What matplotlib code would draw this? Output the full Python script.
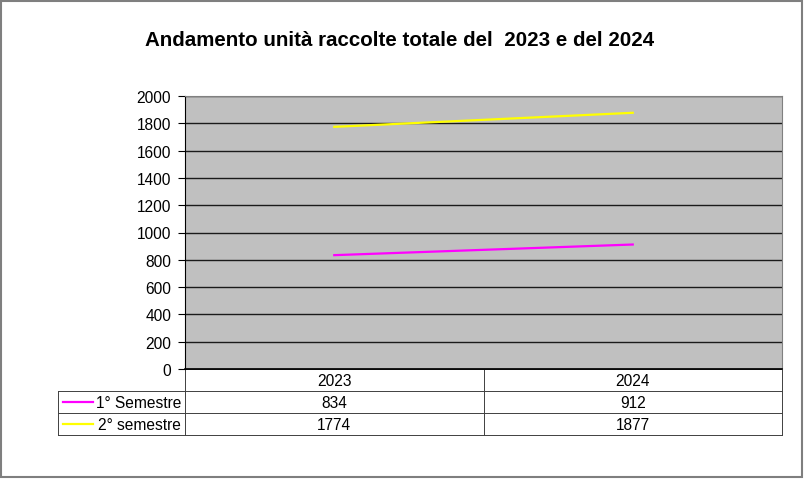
import numpy as np
import matplotlib
matplotlib.use("Agg")
import matplotlib.pyplot as plt
from matplotlib.patches import Rectangle

plt.rcParams['font.family'] = ['Liberation Sans', 'DejaVu Sans']

# dati
anni = ['2023', '2024']
serie = ['1° Semestre', '2° semestre']
primo_sem = [834, 912]
secondo_sem = [1774, 1877]
colori = ['#FF00FF', '#FFFF00']
titolo = 'Andamento unità raccolte totale del  2023 e del 2024'

W, H = 810, 489
fig = plt.figure(figsize=(W / 100, H / 100), dpi=100)

# cornice esterna
fig.patches.append(Rectangle((1 / W, 1 - 478 / H), 801 / W, 476 / H,
                             transform=fig.transFigure, fill=False,
                             edgecolor='#7f7f7f', linewidth=1.5))

ax = fig.add_axes([185 / W, 1 - 370 / H, 597 / W, 273 / H])
ax.set_facecolor('#C0C0C0')

x = np.arange(len(anni))
valori = [primo_sem, secondo_sem]
for v, c in zip(valori, colori):
    ax.plot(x, v, color=c, linewidth=1.6, zorder=3)

ax.set_xlim(-0.5, len(anni) - 0.5)
ax.set_ylim(0, 2000)
ax.set_yticks(np.arange(0, 2001, 200))
ax.set_xticks([])
ax.grid(axis='y', color='#1a1a1a', linewidth=1.0)
ax.set_axisbelow(True)
ax.tick_params(axis='y', length=5, width=0.8, color='#000000',
               labelsize=11.2, pad=5)
for s in ax.spines.values():
    s.set_color('#808080')
ax.spines['left'].set_color('#000000')
ax.spines['bottom'].set_color('#000000')
ax.spines['bottom'].set_linewidth(1.2)

fig.text(400 / W, 1 - 41 / H, titolo, ha='center', va='center',
         fontsize=14.8, fontweight='bold')

# tabella dati sotto il grafico
rh = 22 / 273   # altezza riga in coordinate assi
lc = -(185 - 58) / 597  # bordo sinistro colonna legenda
lw = 0.7
col = '#404040'
kw = dict(transform=ax.transAxes, clip_on=False, color=col, linewidth=lw)
# righe orizzontali
ax.plot([0, 1], [0, 0], **kw)
for i in range(1, 4):
    ax.plot([lc, 1], [-i * rh, -i * rh], **kw)
ax.plot([lc, lc], [-rh, -3 * rh], **kw)
ax.plot([0, 0], [0, -3 * rh], **kw)
ax.plot([1, 1], [0, -3 * rh], **kw)
ax.plot([0.5, 0.5], [0, -3 * rh], **kw)

fs = 11.2
for j, a in enumerate(anni):
    ax.text((j + 0.5) / len(anni), -0.5 * rh, a, transform=ax.transAxes,
            ha='center', va='center', fontsize=fs)
for i, (nome, v, c) in enumerate(zip(serie, valori, colori)):
    yc = -(i + 1.5) * rh
    ax.plot([lc + 5 / 597, lc + 35 / 597], [yc, yc], transform=ax.transAxes,
            clip_on=False, color=c, linewidth=1.6)
    ax.text(-4 / 597, yc, nome, transform=ax.transAxes, ha='right',
            va='center', fontsize=fs)
    for j, val in enumerate(v):
        ax.text((j + 0.5) / len(anni), yc, str(val), transform=ax.transAxes,
                ha='center', va='center', fontsize=fs)

fig.savefig('out.png', dpi=100)
